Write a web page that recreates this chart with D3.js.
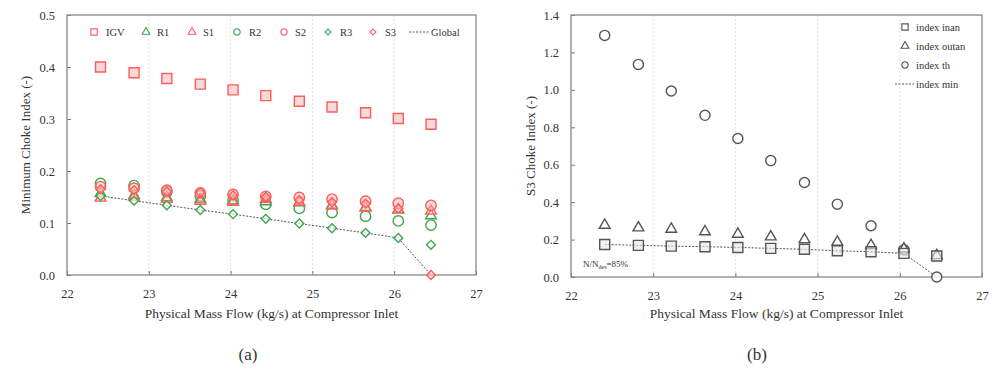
<!DOCTYPE html>
<html>
<head>
<meta charset="utf-8">
<script src="https://cdn.jsdelivr.net/npm/d3@7"></script>
<style>
  body { margin: 0; background: #fff; }
  svg text { font-family: "Liberation Serif", "DejaVu Serif", serif; fill: #333; }
</style>
</head>
<body>
<svg id="chart" width="1004" height="376"></svg>
<script>
// mass flow at compressor inlet (kg/s), shared by both panels
var massFlow = [22.41, 22.82, 23.22, 23.63, 24.03, 24.43, 24.84, 25.24, 25.65, 26.05, 26.45];
var xTicks = [22, 23, 24, 25, 26, 27];

// panel (a) - minimum choke index per row
var igv = [0.400, 0.389, 0.378, 0.367, 0.356, 0.345, 0.334, 0.323, 0.312, 0.301, 0.290];
var r1  = [0.157, 0.153, 0.149, 0.146, 0.143, 0.141, 0.139, 0.134, 0.130, 0.126, 0.114];
var s1  = [0.148, 0.150, 0.146, 0.142, 0.140, 0.146, 0.140, 0.133, 0.129, 0.125, 0.123];
var r2  = [0.176, 0.172, 0.160, 0.152, 0.144, 0.136, 0.128, 0.120, 0.113, 0.104, 0.096];
var s2  = [0.170, 0.167, 0.163, 0.158, 0.155, 0.151, 0.149, 0.146, 0.142, 0.138, 0.134];
var r3  = [0.152, 0.143, 0.134, 0.125, 0.117, 0.108, 0.099, 0.090, 0.081, 0.071, 0.058];
var s3  = [0.165, 0.163, 0.160, 0.159, 0.153, 0.150, 0.144, 0.140, 0.137, 0.128, 0.000];
var globalMin = [0.152, 0.143, 0.134, 0.125, 0.117, 0.108, 0.099, 0.090, 0.081, 0.071, 0.000];
var yTicksA = [0.0, 0.1, 0.2, 0.3, 0.4, 0.5];

// panel (b) - S3 choke index
var inan = [0.174, 0.169, 0.165, 0.162, 0.158, 0.153, 0.148, 0.140, 0.135, 0.126, 0.112];
var outan = [0.277, 0.263, 0.256, 0.242, 0.229, 0.215, 0.200, 0.187, 0.169, 0.150, 0.115];
var th = [1.291, 1.136, 0.994, 0.864, 0.740, 0.622, 0.505, 0.389, 0.274, 0.146, 0.000];
var indexMin = [0.174, 0.169, 0.165, 0.162, 0.158, 0.153, 0.148, 0.140, 0.135, 0.126, 0.000];
var yTicksB = [0.0, 0.2, 0.4, 0.6, 0.8, 1.0, 1.2, 1.4];

var RED = '#ff5c5c', GREEN = '#3aa84a', GREY = '#555';

var svg = d3.select('#chart');

function shape(kind, size){
  if (kind == 'square') return d3.symbol(d3.symbolSquare, size)();
  if (kind == 'triangle') return d3.symbol(d3.symbolTriangle, size)();
  if (kind == 'circle') return d3.symbol(d3.symbolCircle, size)();
  if (kind == 'diamond') return d3.symbol(d3.symbolSquare, size)(); // rotated below
}

function drawPanel(opt){
  var g = svg.append('g');
  var x = d3.scaleLinear().domain([22, 27]).range([opt.left, opt.right]);
  var y = d3.scaleLinear().domain(opt.yDomain).range([opt.bottom, opt.top]);

  // dotted vertical grid
  g.selectAll('.grid').data([23, 24, 25, 26]).enter().append('line')
    .attr('x1', function(d){ return x(d); }).attr('x2', function(d){ return x(d); })
    .attr('y1', opt.top).attr('y2', opt.bottom)
    .attr('stroke', '#e0e0e0').attr('stroke-dasharray', '2,2');

  // axes (ticks inward)
  g.append('g').attr('transform', 'translate(0,' + opt.bottom + ')')
    .call(d3.axisBottom(x).tickValues(xTicks).tickSize(-4).tickPadding(14).tickFormat(d3.format('d')))
    .call(function(a){ a.select('.domain').remove(); a.selectAll('line').attr('stroke', '#777'); a.selectAll('text').attr('font-size', 12.5).attr('fill', '#333'); });
  g.append('g').attr('transform', 'translate(' + opt.left + ',0)')
    .call(d3.axisLeft(y).tickValues(opt.yTicks).tickSize(-4).tickPadding(12).tickFormat(d3.format('.1f')))
    .call(function(a){ a.select('.domain').remove(); a.selectAll('line').attr('stroke', '#777'); a.selectAll('text').attr('font-size', 12.5).attr('fill', '#333'); });

  g.append('rect').attr('x', opt.left).attr('y', opt.top)
    .attr('width', opt.right - opt.left).attr('height', opt.bottom - opt.top)
    .attr('fill', 'none').attr('stroke', '#888').attr('stroke-width', 1.3);

  // min line
  var line = d3.line().x(function(d, i){ return x(massFlow[i]); }).y(function(d){ return y(d); });
  g.append('path').datum(opt.minLine).attr('d', line)
    .attr('fill', 'none').attr('stroke', '#555').attr('stroke-width', 1).attr('stroke-dasharray', '2,1.5');

  opt.series.forEach(function(s){
    g.selectAll(null).data(s.values).enter().append('path')
      .attr('d', shape(s.kind, s.size))
      .attr('transform', function(d, i){ return 'translate(' + x(massFlow[i]) + ',' + y(d) + ')' + (s.kind == 'diamond' ? ' rotate(45)' : ''); })
      .attr('fill', s.fill).attr('stroke', s.color).attr('stroke-width', 1.4);
  });

  // axis titles
  g.append('text').attr('x', (opt.left + opt.right) / 2).attr('y', 318)
    .attr('text-anchor', 'middle').attr('font-size', 13.5).text('Physical Mass Flow (kg/s) at Compressor Inlet');
  g.append('text').attr('transform', 'translate(' + opt.yLabelX + ',' + ((opt.top + opt.bottom) / 2) + ') rotate(-90)')
    .attr('text-anchor', 'middle').attr('font-size', 13).text(opt.yLabel);
  g.append('text').attr('x', opt.capX).attr('y', 360).attr('text-anchor', 'middle')
    .attr('font-size', 17).text(opt.caption);
  return {g: g, x: x, y: y};
}

var a = drawPanel({
  left: 67, right: 476, top: 15, bottom: 275, yDomain: [0, 0.5], yTicks: yTicksA,
  yLabel: 'Minimum Choke Index (-)', yLabelX: 30, capX: 248, caption: '(a)',
  minLine: globalMin,
  series: [
    {name: 'IGV', kind: 'square', size: 100, values: igv, color: RED, fill: 'rgba(235,170,170,0.45)'},
    {name: 'R2', kind: 'circle', size: 85, values: r2, color: GREEN, fill: 'rgba(255,255,255,0.3)'},
    {name: 'R1', kind: 'triangle', size: 50, values: r1, color: GREEN, fill: 'rgba(255,255,255,0.3)'},
    {name: 'S1', kind: 'triangle', size: 50, values: s1, color: RED, fill: 'rgba(255,170,170,0.35)'},
    {name: 'S2', kind: 'circle', size: 85, values: s2, color: RED, fill: 'rgba(255,170,170,0.45)'},
    {name: 'R3', kind: 'diamond', size: 40, values: r3, color: GREEN, fill: 'rgba(255,255,255,0.6)'},
    {name: 'S3', kind: 'diamond', size: 40, values: s3, color: RED, fill: 'rgba(255,190,190,0.5)'}
  ]
});

var b = drawPanel({
  left: 571, right: 982, top: 15, bottom: 277, yDomain: [0, 1.4], yTicks: yTicksB,
  yLabel: 'S3 Choke Index (-)', yLabelX: 535, capX: 757, caption: '(b)',
  minLine: indexMin,
  series: [
    {name: 'index th', kind: 'circle', size: 80, values: th, color: GREY, fill: 'rgba(255,255,255,0.8)'},
    {name: 'index outan', kind: 'triangle', size: 50, values: outan, color: GREY, fill: 'rgba(255,255,255,0.6)'},
    {name: 'index inan', kind: 'square', size: 100, values: inan, color: GREY, fill: 'rgba(230,230,230,0.6)'}
  ]
});

// legend (a), one row at the top
var legA = [
  {label: 'IGV', kind: 'square', color: RED, mx: 94, tx: 106},
  {label: 'R1', kind: 'triangle', color: GREEN, mx: 146, tx: 157},
  {label: 'S1', kind: 'triangle', color: RED, mx: 192, tx: 203},
  {label: 'R2', kind: 'circle', color: GREEN, mx: 237, tx: 249},
  {label: 'S2', kind: 'circle', color: RED, mx: 284, tx: 295},
  {label: 'R3', kind: 'diamond', color: GREEN, mx: 328, tx: 340},
  {label: 'S3', kind: 'diamond', color: RED, mx: 373, tx: 385}
];
var smallSize = {square: 40, triangle: 26, circle: 32, diamond: 18};
legA.forEach(function(d){
  a.g.append('path').attr('d', shape(d.kind, smallSize[d.kind]))
    .attr('transform', 'translate(' + d.mx + ',32)' + (d.kind == 'diamond' ? ' rotate(45)' : ''))
    .attr('fill', 'none').attr('stroke', d.color).attr('stroke-width', 1.1);
  a.g.append('text').attr('x', d.tx).attr('y', 35.5).attr('font-size', 10.5).text(d.label);
});
a.g.append('line').attr('x1', 409).attr('x2', 430).attr('y1', 32).attr('y2', 32)
  .attr('stroke', '#555').attr('stroke-dasharray', '2,1.5');
a.g.append('text').attr('x', 431).attr('y', 35.5).attr('font-size', 10.5).text('Global');

// legend (b), stacked at top right
var legB = [
  {label: 'index inan', kind: 'square', y: 27},
  {label: 'index outan', kind: 'triangle', y: 46},
  {label: 'index th', kind: 'circle', y: 65}
];
legB.forEach(function(d){
  b.g.append('path').attr('d', shape(d.kind, smallSize[d.kind]))
    .attr('transform', 'translate(905,' + d.y + ')')
    .attr('fill', 'none').attr('stroke', GREY).attr('stroke-width', 1.1);
  b.g.append('text').attr('x', 916).attr('y', d.y + 3.5).attr('font-size', 10.5).text(d.label);
});
b.g.append('line').attr('x1', 895).attr('x2', 914).attr('y1', 84).attr('y2', 84)
  .attr('stroke', '#555').attr('stroke-dasharray', '2,1.5');
b.g.append('text').attr('x', 916).attr('y', 87.5).attr('font-size', 10.5).text('index min');

var note = b.g.append('text').attr('x', 583).attr('y', 267).attr('font-size', 9);
note.append('tspan').text('N/N');
note.append('tspan').attr('font-size', 6).attr('dy', 2).text('des');
note.append('tspan').attr('dy', -2).text('=85%');
</script>
</body>
</html>
